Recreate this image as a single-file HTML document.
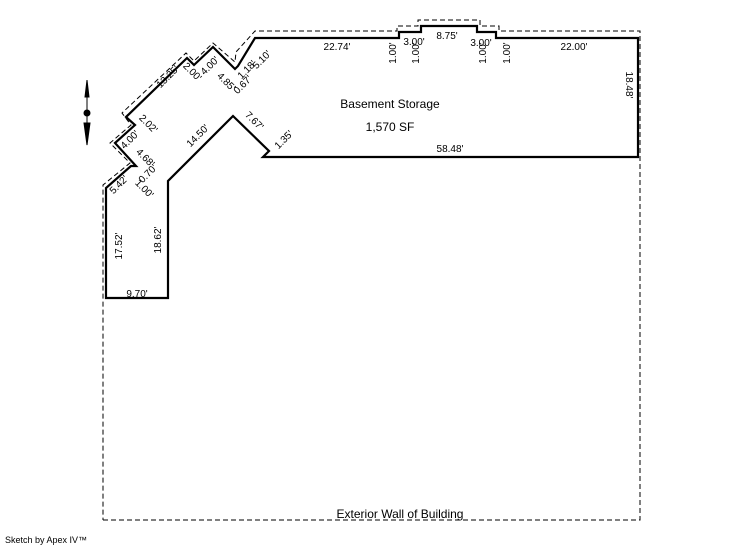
<!DOCTYPE html>
<html><head><style>
html,body{margin:0;padding:0;background:#fff;}
svg{display:block;}
text{font-family:"Liberation Sans",Arial,sans-serif;fill:#000;}
.s{font-size:10px;}
</style></head><body>
<svg width="746" height="547" viewBox="0 0 746 547" xmlns="http://www.w3.org/2000/svg">
<!-- exterior dashed -->
<polyline fill="none" stroke="#000" stroke-width="1" stroke-dasharray="5,3"
 points="103,520 640,520 640,31 499,31 499,26 480,26 480,20 418,20 418,26 397,26 397,31 255,31 236,52 235,62 213,43 194,61 186,53 122,113 131,125 110,143 130,163 103,185 103,520"/>
<!-- main outline -->
<polygon fill="none" stroke="#000" stroke-width="2.2" stroke-linejoin="miter"
 points="255,38 399,38 399,32 421,32 421,26 477,26 477,32 496,32 496,38 638,38 638,157 263,157 269,151 233,116 168,181 168,298 106,298 106,188 131,166 136,166 115,143 135,125 126,117 187,58 194,65 213,47 235,69 238,66 255,38"/>
<!-- compass -->
<g stroke="#000" fill="#000">
<line x1="87" y1="80" x2="87" y2="145" stroke-width="1"/>
<polygon points="87,80 85,97 89,97"/>
<circle cx="87" cy="113" r="3"/>
<polygon points="87,145 84,123 90,123"/>
</g>
<g class="s">
<text x="337" y="50" text-anchor="middle">22.74'</text>
<text x="414" y="45" text-anchor="middle">3.00'</text>
<text x="447" y="39" text-anchor="middle">8.75'</text>
<text x="481" y="46" text-anchor="middle">3.00'</text>
<text x="574" y="50" text-anchor="middle">22.00'</text>
<text transform="translate(396,53) rotate(-90)" text-anchor="middle">1.00'</text>
<text transform="translate(419,53) rotate(-90)" text-anchor="middle">1.00'</text>
<text transform="translate(486,53) rotate(-90)" text-anchor="middle">1.00'</text>
<text transform="translate(510,53) rotate(-90)" text-anchor="middle">1.00'</text>
<text transform="translate(626,85) rotate(90)" text-anchor="middle">18.48'</text>
<text x="450" y="152" text-anchor="middle">58.48'</text>
<text transform="translate(286,142) rotate(-45)" text-anchor="middle">1.35'</text>
<text transform="translate(252,123) rotate(45)" text-anchor="middle">7.67'</text>
<text transform="translate(200,138) rotate(-45)" text-anchor="middle">14.50'</text>
<text transform="translate(161,240) rotate(-90)" text-anchor="middle">18.62'</text>
<text transform="translate(122,246) rotate(-90)" text-anchor="middle">17.52'</text>
<text x="137" y="297" text-anchor="middle">9.70'</text>
<text transform="translate(121,187) rotate(-45)" text-anchor="middle">5.42'</text>
<text transform="translate(142,191) rotate(45)" text-anchor="middle">1.00'</text>
<text transform="translate(150,176) rotate(-45)" text-anchor="middle">0.70'</text>
<text transform="translate(143,160) rotate(45)" text-anchor="middle">4.68'</text>
<text transform="translate(132,142) rotate(-45)" text-anchor="middle">4.00'</text>
<text transform="translate(146,126) rotate(45)" text-anchor="middle">2.02'</text>
<text transform="translate(170,79) rotate(-45)" text-anchor="middle">13.25'</text>
<text transform="translate(190,74) rotate(45)" text-anchor="middle">2.00'</text>
<text transform="translate(212,68) rotate(-45)" text-anchor="middle">4.00'</text>
<text transform="translate(224,84) rotate(45)" text-anchor="middle">4.85'</text>
<text transform="translate(245,87) rotate(-45)" text-anchor="middle">0.67'</text>
<text transform="translate(249,72) rotate(-45)" text-anchor="middle">1.18'</text>
<text transform="translate(264,62) rotate(-45)" text-anchor="middle">5.10'</text>
</g>
<text x="390" y="108" font-size="12" text-anchor="middle">Basement Storage</text>
<text x="390" y="131" font-size="12" text-anchor="middle">1,570 SF</text>
<text x="400" y="518" font-size="12" text-anchor="middle">Exterior Wall of Building</text>
<text x="5" y="543" font-size="9">Sketch by Apex IV™</text>
</svg>
</body></html>
